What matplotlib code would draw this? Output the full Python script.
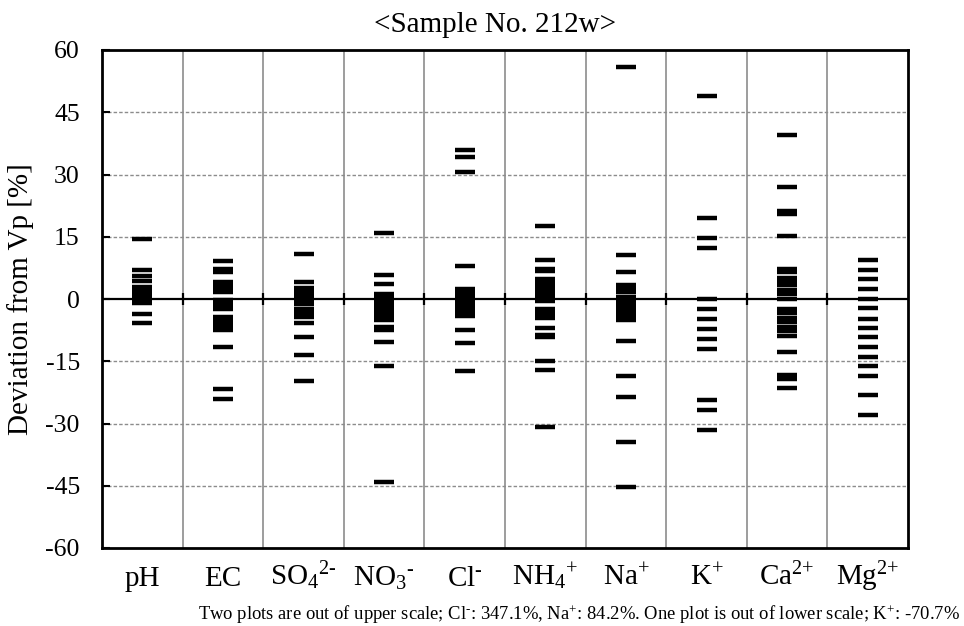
import matplotlib
matplotlib.use("Agg")
import matplotlib.pyplot as plt

plt.rcParams["font.family"] = ["Liberation Serif", "DejaVu Serif"]
plt.rcParams["mathtext.fontset"] = "custom"
plt.rcParams["mathtext.rm"] = "Liberation Serif"
plt.rcParams["mathtext.it"] = "Liberation Serif:italic"
plt.rcParams["axes.unicode_minus"] = False

labels = ["pH", "EC", r"SO$_4$$^{\text{2-}}$", r"NO$_3$$^{\text{-}}$", r"Cl$^{\text{-}}$",
          r"NH$_4$$^{\text{+}}$", r"Na$^{\text{+}}$", r"K$^{\text{+}}$",
          r"Ca$^{\text{2+}}$", r"Mg$^{\text{2+}}$"]

ph = [14.4, 7.1, 5.6, 4.3, 2.9, 1.9, 0.9, 0.0, -1.0, -3.6, -5.7]
ec = [9.1, 7.3, 6.6, 4.2, 3.2, 2.4, 1.6, -0.2, -1.0, -1.8, -2.5,
      -4.3, -5.2, -6.0, -6.8, -7.5, -11.6, -21.8, -24.2]
so4 = [10.8, 4.2, 2.7, 1.7, 0.7, -0.3, -1.3, -2.3, -3.3, -4.3,
       -5.9, -9.2, -13.6, -19.8]
no3 = [16.0, 5.9, 3.5, 1.3, 0.3, -0.7, -1.7, -2.7, -3.7, -4.4, -5.0,
       -6.7, -7.4, -10.4, -16.2, -44.1]
cl = [36.0, 34.3, 30.7, 7.9, 2.5, 1.5, 0.5, -0.5, -1.5, -2.5, -3.4, -4.2,
      -7.4, -10.7, -17.4]
nh4 = [17.5, 9.3, 7.3, 6.7, 4.7, 3.8, 2.9, 2.0, 1.1, 0.2, -0.6,
       -2.3, -3.2, -4.0, -4.5, -7.1, -8.6, -9.2, -15.0, -17.2, -30.9]
na = [56.0, 10.7, 6.4, 3.4, 2.5, 1.6, 0.6, -0.3, -1.2, -2.2, -3.1, -4.1, -5.1,
      -10.2, -18.6, -23.7, -34.5, -45.3]
k = [48.8, 19.4, 14.6, 12.2, -0.1, -2.5, -4.9, -7.3, -9.7, -12.1,
     -24.4, -26.8, -31.6]
ca = [39.6, 26.9, 21.3, 20.4, 15.1, 7.3, 6.5, 5.1, 4.2, 3.3, 2.1, 1.1, -0.1,
      -2.3, -3.3, -4.5, -5.5, -6.7, -7.6, -8.8, -12.8, -18.4, -19.3, -21.5]
mg = [9.3, 6.9, 4.7, 2.3, -0.1, -2.2, -4.7, -7.1, -9.2, -11.6, -14.0,
      -16.2, -18.6, -23.2, -28.0]
series = [ph, ec, so4, no3, cl, nh4, na, k, ca, mg]

yticks = [60, 45, 30, 15, 0, -15, -30, -45, -60]

fig = plt.figure(figsize=(9.64, 6.26), dpi=100)
ax = fig.add_axes([102 / 964, 78 / 626, 806 / 964, 498 / 626])

for y in yticks:
    if y in (60, -60, 0):
        continue
    ax.axhline(y, color="#8c8c8c", lw=1.0, ls=(0, (2.5, 1.5)), zorder=1)
for i in range(len(labels) - 1):
    ax.axvline(i + 0.5, color="#8c8c8c", lw=1.2, zorder=1)
ax.axhline(0, color="black", lw=1.6, zorder=2)
ax.plot([i + 0.5 for i in range(len(labels) - 1)], [0] * (len(labels) - 1),
        ls="none", marker="|", ms=9, mew=1.6, color="black", zorder=2)

for i, vals in enumerate(series):
    ax.plot([i] * len(vals), vals, ls="none", marker="_", ms=14, mew=3.2,
            color="black", zorder=3)

ax.set_xlim(-0.5, len(labels) - 0.5)
ax.set_ylim(-60, 60)
ax.set_yticks(yticks)
ax.set_yticklabels([str(v) for v in yticks], fontsize=18.5)
ax.tick_params(axis="y", direction="in", length=6, width=1.5, pad=16)
ax.set_xticks(range(len(labels)))
ax.set_xticklabels(labels, fontsize=21)
for t in ax.get_xticklabels():
    t.set_va("baseline")
ax.tick_params(axis="x", length=0, pad=27)
for sp in ax.spines.values():
    sp.set_linewidth(2)
    sp.set_color("black")

ax.set_ylabel("Deviation from Vp [%]", fontsize=21, labelpad=8)
ax.set_title("<Sample No. 212w>", fontsize=21, pad=13, x=(495 - 102) / 806)

fig.text(960 / 964, 1 - 620 / 626,
         r"Two plots are out of upper scale; Cl$^{\text{-}}$: 347.1%, Na$^{\text{+}}$: 84.2%. "
         r"One plot is out of lower scale; K$^{\text{+}}$: -70.7%",
         fontsize=13.4, ha="right", va="baseline")

fig.savefig("out.png", dpi=100)
